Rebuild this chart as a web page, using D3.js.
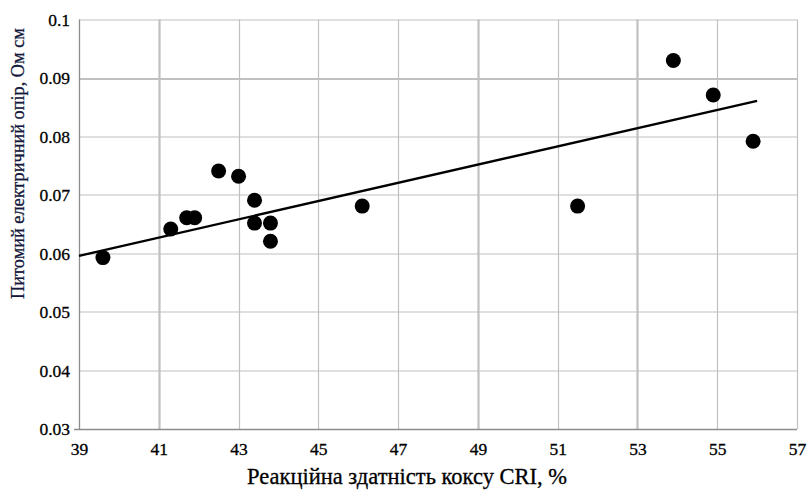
<!DOCTYPE html>
<html lang="uk">
<head>
  <meta charset="UTF-8">
  <title>CRI vs resistivity</title>
  <style>
    body { margin: 0; padding: 0; background: #fff; }
    svg text { font-family: "Liberation Serif", "DejaVu Serif", serif; fill: #000; stroke: #000; stroke-width: 0.3px; }
  </style>
</head>
<body>
<svg width="808" height="490"></svg>
<script src="https://d3js.org/d3.v7.min.js"></script>
<script>
// data
const cri = [39.6, 41.3, 41.7, 41.9, 42.5, 43.0, 43.4, 43.4, 43.8, 43.8, 46.1, 51.5, 53.9, 54.9, 55.9];
const resistivity = [0.0593, 0.0642, 0.0661, 0.0661, 0.0741, 0.0732, 0.0691, 0.0652, 0.0652, 0.0621, 0.0681, 0.0681, 0.0930, 0.0871, 0.0792];
const xTicks = [39, 41, 43, 45, 47, 49, 51, 53, 55, 57];
const yTicks = [0.03, 0.04, 0.05, 0.06, 0.07, 0.08, 0.09, 0.1];
// trendline ends as drawn in the original
const trendX = [39, 56];
const trendY = [0.0596, 0.0861];

const margin = {top: 19.5, right: 11, bottom: 61, left: 79},
      width = 808 - margin.left - margin.right,
      height = 490 - margin.top - margin.bottom;

const svg = d3.select("svg");
const g = svg.append("g").attr("transform", `translate(${margin.left},${margin.top})`);

const x = d3.scaleLinear().domain([39, 57]).range([0, width]);
const y = d3.scaleLinear().domain([0.03, 0.1]).range([height, 0]);

// gridlines (a few render heavier in the original)
const heavyX = [41, 49, 53], heavyY = [0.09];
g.selectAll("line.vgrid").data(xTicks.slice(1)).enter().append("line")
  .attr("x1", d => Math.round(x(d)) + 0.5).attr("x2", d => Math.round(x(d)) + 0.5)
  .attr("y1", 0).attr("y2", height)
  .attr("stroke", "#c0c0c0").attr("stroke-width", d => heavyX.includes(d) ? 2.2 : 1.2);
g.selectAll("line.hgrid").data(yTicks.slice(1)).enter().append("line")
  .attr("x1", 0).attr("x2", width)
  .attr("y1", d => Math.round(y(d)) + 0.5).attr("y2", d => Math.round(y(d)) + 0.5)
  .attr("stroke", "#c0c0c0").attr("stroke-width", d => heavyY.includes(d) ? 2.2 : 1.2);

// axes lines
g.append("line").attr("x1", 0.5).attr("x2", 0.5).attr("y1", 0).attr("y2", height)
  .attr("stroke", "#8c8c8c").attr("stroke-width", 1.3);
g.append("line").attr("x1", -5).attr("x2", width).attr("y1", height + 0.5).attr("y2", height + 0.5)
  .attr("stroke", "#8c8c8c").attr("stroke-width", 1.3);

// tick labels
const xAxis = d3.axisBottom(x).tickValues(xTicks).tickSize(0).tickPadding(14).tickFormat(d3.format("d"));
const yAxis = d3.axisLeft(y).tickValues(yTicks).tickSize(0).tickPadding(9).tickFormat(d => String(d));
const gx = g.append("g").attr("transform", `translate(0,${height})`).call(xAxis);
const gy = g.append("g").call(yAxis);
[gx, gy].forEach(a => {
  a.select(".domain").remove();
  a.selectAll("text").style("font-family", "'Liberation Serif', serif").style("font-size", "17.5px").attr("fill", "#000");
});

// linear trend
g.append("line")
  .attr("x1", x(trendX[0])).attr("y1", y(trendY[0]))
  .attr("x2", x(trendX[1])).attr("y2", y(trendY[1]))
  .attr("stroke", "#000").attr("stroke-width", 2.4);

// points
g.selectAll("circle.pt").data(cri).enter().append("circle")
  .attr("cx", d => x(d)).attr("cy", (d, i) => y(resistivity[i]))
  .attr("r", 7.5).attr("fill", "#000");

// axis titles
svg.append("text")
  .attr("x", 407).attr("y", 484)
  .attr("text-anchor", "middle").style("font-size", "22.5px")
  .text("Реакційна здатність коксу CRI, %");
svg.append("text")
  .attr("transform", "translate(24,163.5) rotate(-90)")
  .attr("text-anchor", "middle").style("font-size", "18.3px")
  .style("fill", "#14183a").style("stroke", "#14183a")
  .text("Питомий електричний опір, Ом см");
</script>
</body>
</html>
